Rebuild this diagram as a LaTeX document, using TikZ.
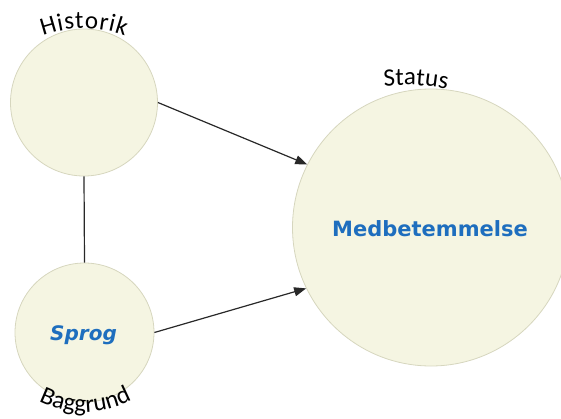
\documentclass[tikz,border=0pt]{standalone}
\usepackage{fontspec}
\newfontfamily\carlito{Carlito}
\newfontfamily\dejavu{DejaVu Sans}
\usetikzlibrary{arrows.meta,decorations.text}
\definecolor{cream}{RGB}{245,245,226}
\definecolor{rim}{RGB}{214,214,190}
\definecolor{tblue}{RGB}{30,110,190}
\definecolor{arr}{RGB}{40,40,40}
\tikzset{
  bubble/.style={circle, draw=rim, fill=cream, line width=0.8pt, inner sep=0pt},
  title/.style={text=tblue, font=\dejavu\bfseries\fontsize{21}{25}\selectfont},
  link/.style={draw=arr, line width=1.2pt},
  flow/.style={link, -{Triangle[length=12pt,width=9pt]}},
  arch/.style={decorate, decoration={text along path, text align=fit to path, text color=black}}
}
\begin{document}
\begin{tikzpicture}[x=1pt,y=1pt]
\useasboundingbox (0,0) rectangle (561,418);
\clip (0,0) rectangle (561,418);
\node[bubble, minimum size=147pt] (hist) at (84,315.5) {};
\node[bubble, minimum size=139pt] (sprog) at (84.5,85.5) {};
\node[bubble, minimum size=277pt] (med) at (431,190.5) {};
\node[title, font=\dejavu\bfseries\itshape\fontsize{20}{24}\selectfont] at (83.5,83) {Sprog};
\node[title] (medtxt) at (430,189) {Medbetemmelse};
\draw[link] (hist.south) -- (sprog.north);
\draw[flow] (hist.east) -- (med.153.3);
\draw[flow] (sprog.east) -- (med.206.4);
% curved labels
\path[arch, decoration={text={|\carlito\fontsize{25}{30}\selectfont|Historik}}]
  (84,269.5) ++(110:120) arc[start angle=110, end angle=70, radius=120];
\path[arch, decoration={text={|\carlito\fontsize{25}{30}\selectfont|Baggrund}}]
  (84,106) ++(243:100) arc[start angle=243, end angle=297, radius=100];
\path[arch, decoration={text={|\carlito\fontsize{25}{30}\selectfont|Status}}]
  (405,133) ++(96:200) arc[start angle=96, end angle=79, radius=200];
\end{tikzpicture}
\end{document}
